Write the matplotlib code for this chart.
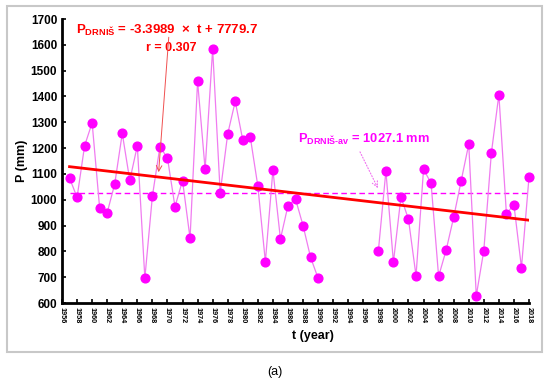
import numpy as np
import matplotlib
matplotlib.use('Agg')
import matplotlib.pyplot as plt
from matplotlib.patches import Rectangle

plt.rcParams['font.family'] = 'Liberation Sans'
plt.rcParams['mathtext.fontset'] = 'custom'
plt.rcParams['mathtext.rm'] = 'Liberation Sans:bold'
plt.rcParams['mathtext.bf'] = 'Liberation Sans:bold'

# godišnje oborine, Drniš (mm); 1991-1997 nema podataka
years = list(range(1957, 2019))
precip = [1084, 1009, 1209, 1298, 967, 950, 1061, 1257, 1075, 1209,
          696, 1014, 1205, 1162, 973, 1074, 851, 1459, 1118, 1584,
          1027, 1255, 1381, 1231, 1242, 1053, 760, 1115, 848, 977,
          1003, 900, 777, 696,
          None, None, None, None, None, None, None,
          801, 1111, 758, 1011, 924, 705, 1118, 1064, 703, 805,
          932, 1074, 1215, 628, 803, 1180, 1407, 946, 980, 737, 1087]
slope = -3.3989
intercept = 7779.7
mean_p = 1027.1

t = np.array(years, dtype=float)
p = np.array([np.nan if v is None else v for v in precip], dtype=float)

fig = plt.figure(figsize=(5.5, 3.86), dpi=100)
ax = fig.add_axes([62 / 550, 1 - 303 / 386, 467 / 550, 284 / 386])

# okvir oko grafa
fig.patches.append(Rectangle((7 / 550, 1 - 352 / 386), 535 / 550, 346 / 386,
                             transform=fig.transFigure, fill=False,
                             edgecolor='#c8c8c8', linewidth=1.5))

ax.plot(t, p, color='#f07cf0', linewidth=0.9, zorder=2, clip_on=False)
ax.plot(t, p, linestyle='none', marker='o', markersize=6.3,
        color='#ff00ff', zorder=3, clip_on=False)

ax.plot([t[0], t[-1]], [mean_p, mean_p], color='#ff00ff',
        linestyle=(0, (4, 2.5)), linewidth=1.0, zorder=1)
ax.plot([t[0], t[-1]], [slope * t[0] + intercept, slope * t[-1] + intercept],
        color='red', linewidth=2.0, zorder=4)

ax.set_xlim(1956, 2018)
ax.set_ylim(600, 1700)
ax.set_xticks(range(1956, 2019, 2))
ax.set_yticks(range(600, 1701, 100))
ax.tick_params(axis='x', direction='in', length=3, width=1.2,
               labelsize=5.2, rotation=270, pad=3)
ax.tick_params(axis='y', direction='in', length=3, width=1.2, labelsize=8.5)
for lab in ax.get_xticklabels() + ax.get_yticklabels():
    lab.set_fontweight('bold')

for s in ['top', 'right']:
    ax.spines[s].set_visible(False)
ax.spines['left'].set_linewidth(2)
ax.spines['bottom'].set_linewidth(2)

ax.set_ylabel('P (mm)', fontsize=9, fontweight='bold', labelpad=2)
fig.text(313 / 550, 1 - 336 / 386, 't (year)', ha='center', va='center',
         fontsize=9, fontweight='bold')
fig.text(275 / 550, 1 - 372 / 386, '(a)', ha='center', va='center',
         fontsize=9)

ax.text(0.5 * (77 + 258) / 550, 1 - 30 / 386,
        r'$\mathregular{P_{DRNIŠ}}$ = -3.3989  ×  t + 7779.7',
        transform=fig.transFigure, ha='center', va='center',
        color='red', fontsize=9.5, fontweight='bold')
ax.text(171 / 550, 1 - 48 / 386, 'r = 0.307', transform=fig.transFigure,
        ha='center', va='center', color='red', fontsize=9, fontweight='bold')
ax.annotate('', xy=(1968.8, slope * 1968.8 + intercept + 8),
            xytext=(1970.2, 1640),
            arrowprops=dict(arrowstyle='->', color='#f05050', lw=0.7))

ax.text(364 / 550, 1 - 139 / 386,
        r'$\mathregular{P_{DRNIŠ\text{-}av}}$ = 1027.1 mm',
        transform=fig.transFigure, ha='center', va='center',
        color='#ff00ff', fontsize=9.3, fontweight='bold')
ax.annotate('', xy=(1998.1, mean_p + 8), xytext=(1995.4, 1195),
            arrowprops=dict(arrowstyle='->', color='#f070f0', lw=0.8,
                            linestyle=':'))

fig.savefig('out.png', dpi=100)
